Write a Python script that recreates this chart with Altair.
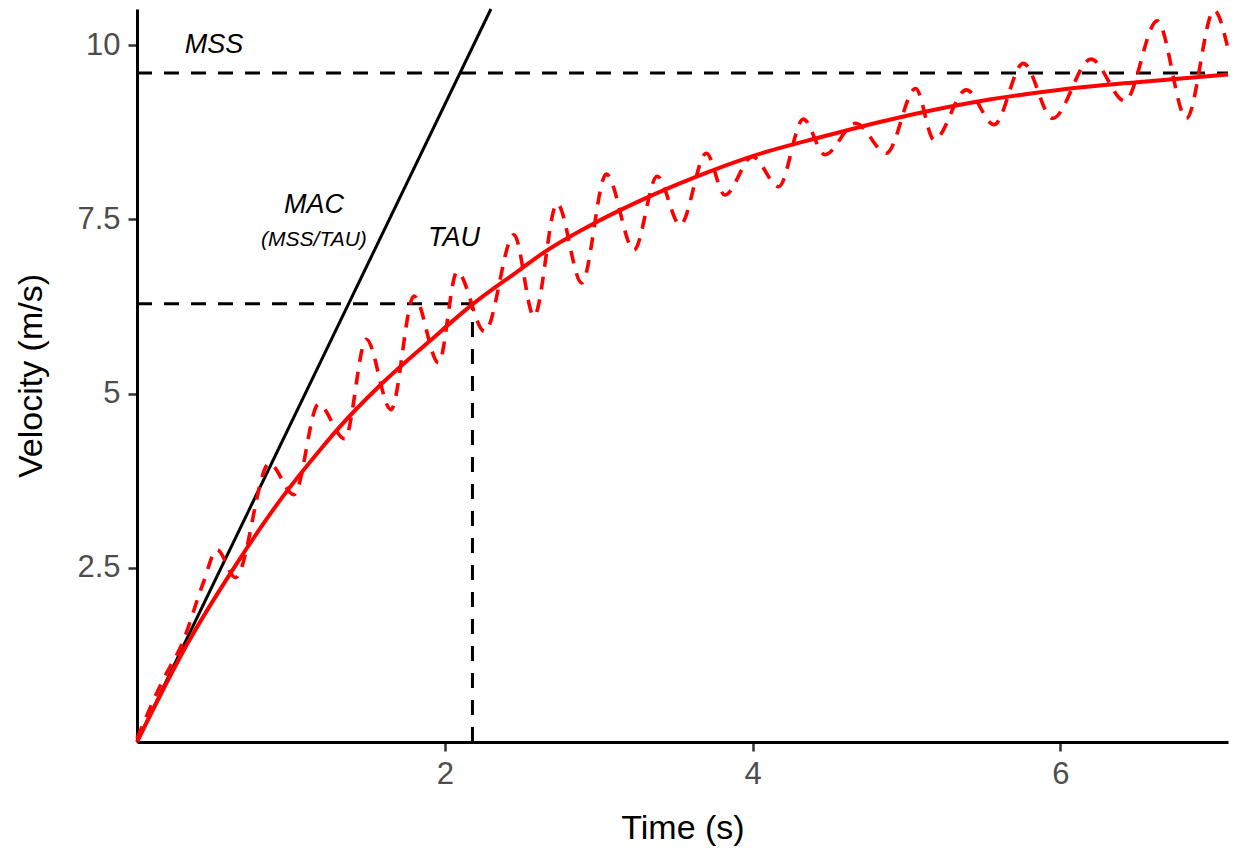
import altair as alt
import pandas as pd

# ---- data ----
# fitted (smooth) velocity curve
model_time = [0.00, 0.33, 0.63, 0.94, 1.20, 1.30, 1.58, 1.91, 2.18, 2.49, 2.64, 3.01,
              3.31, 3.62, 4.03, 4.46, 4.87, 5.41, 6.00, 6.50, 7.09]
model_vel = [0.00, 1.42, 2.50, 3.50, 4.22, 4.48, 5.12, 5.77, 6.28, 6.78, 7.02, 7.49,
             7.81, 8.10, 8.43, 8.69, 8.92, 9.17, 9.36, 9.47, 9.58]

# raw (oscillating) velocity trace: peaks and troughs
raw_time = [0.00, 0.16, 0.30, 0.43, 0.52, 0.64, 0.86, 1.02, 1.18, 1.35, 1.49, 1.65,
            1.80, 1.96, 2.08, 2.26, 2.45, 2.58, 2.73, 2.89, 3.05, 3.23, 3.38, 3.53,
            3.70, 3.82, 4.00, 4.17, 4.33, 4.47, 4.67, 4.87, 5.06, 5.18, 5.39, 5.57,
            5.76, 5.95, 6.20, 6.42, 6.63, 6.82, 7.00, 7.09]
raw_vel = [0.05, 0.85, 1.45, 2.28, 2.76, 2.36, 4.00, 3.55, 4.85, 4.35, 5.78, 4.77,
           6.40, 5.44, 6.75, 5.89, 7.28, 6.11, 7.73, 6.59, 8.15, 7.06, 8.12, 7.42,
           8.45, 7.85, 8.40, 7.97, 8.94, 8.43, 8.88, 8.45, 9.38, 8.64, 9.36, 8.86,
           9.74, 8.95, 9.80, 9.20, 10.35, 8.95, 10.50, 9.95]

# MAC line (initial slope)
mac_time = [0.0, 2.30]
mac_vel = [0.0, 10.52]

MSS = 9.60
TAU = 2.18
TAU_VEL = 6.29
X_MAX = 7.09
Y_MAX = 10.52

labels_text = ["MSS", "MAC", "TAU"]
labels_time = [0.50, 1.15, 2.06]
labels_vel = [10.0, 7.71, 7.23]
sub_text = ["(MSS/TAU)"]
sub_time = [1.15]
sub_vel = [7.20]

FONT = "Liberation Sans"

xs = alt.Scale(domain=[0, X_MAX], nice=False, zero=False)
ys = alt.Scale(domain=[0, Y_MAX], nice=False, zero=False)

model_df = pd.DataFrame({"t": model_time, "v": model_vel})
raw_df = pd.DataFrame({"t": raw_time, "v": raw_vel})
mac_df = pd.DataFrame({"t": mac_time, "v": mac_vel})

hlines_df = pd.DataFrame({"t": [0, 0], "t2": [X_MAX, TAU], "v": [MSS, TAU_VEL]})
vline_df = pd.DataFrame({"t": [TAU], "v": [0], "v2": [TAU_VEL]})

lab_df = pd.DataFrame({"t": labels_time, "v": labels_vel, "txt": labels_text})
sub_df = pd.DataFrame({"t": sub_time, "v": sub_vel, "txt": sub_text})

x_enc = alt.X("t:Q", scale=xs, title="Time (s)",
              axis=alt.Axis(values=[2, 4, 6], labelExpr="toString(datum.value)"))
y_enc = alt.Y("v:Q", scale=ys, title="Velocity (m/s)",
              axis=alt.Axis(values=[2.5, 5, 7.5, 10], labelExpr="toString(datum.value)"))

raw = alt.Chart(raw_df).mark_line(
    color="#FF0000", strokeWidth=3.6, strokeDash=[13, 10], interpolate="monotone"
).encode(x=x_enc, y=y_enc, order="t:Q")

model = alt.Chart(model_df).mark_line(
    color="#FF0000", strokeWidth=4, interpolate="monotone"
).encode(x="t:Q", y="v:Q", order="t:Q")

mac = alt.Chart(mac_df).mark_line(color="black", strokeWidth=3).encode(x="t:Q", y="v:Q")

hlines = alt.Chart(hlines_df).mark_rule(
    color="black", strokeWidth=3, strokeDash=[15, 12]
).encode(x="t:Q", x2="t2:Q", y="v:Q")

vline = alt.Chart(vline_df).mark_rule(
    color="black", strokeWidth=3, strokeDash=[15, 12]
).encode(x="t:Q", y="v:Q", y2="v2:Q")

labs = alt.Chart(lab_df).mark_text(
    font=FONT, fontSize=27, fontStyle="italic", color="black"
).encode(x="t:Q", y="v:Q", text="txt:N")

subs = alt.Chart(sub_df).mark_text(
    font=FONT, fontSize=21, fontStyle="italic", color="black"
).encode(x="t:Q", y="v:Q", text="txt:N")

chart = alt.layer(hlines, vline, mac, raw, model, labs, subs).properties(
    width=1091, height=733,
    padding={"left": 137, "top": 9, "right": 7, "bottom": 114},
    autosize=alt.AutoSizeParams(type="none"),
    background="white",
).configure_view(stroke=None).configure_axis(
    grid=False,
    domainColor="black", domainWidth=3,
    tickColor="#333333", tickWidth=2.5, tickSize=9,
    labelColor="#4D4D4D", labelFont=FONT, labelFontSize=31, labelPadding=8,
    titleColor="black", titleFont=FONT, titleFontSize=34, titleFontWeight="normal",
).configure_axisX(titlePadding=22).configure_axisY(titlePadding=28)

chart.save("out.html", embed_options={"renderer": "svg", "actions": False})
